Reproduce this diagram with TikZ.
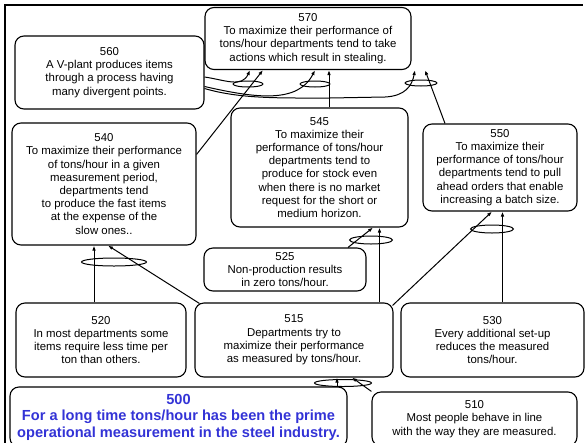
\documentclass[tikz,border=0pt]{standalone}
\usepackage{fontspec}
\setmainfont{Liberation Sans}
\usetikzlibrary{shapes.geometric,arrows.meta}
\definecolor{titleblue}{RGB}{51,51,214}
\tikzset{
  box/.style={draw, line width=1.1pt, rounded corners=9pt, inner sep=0pt, align=center,
    font=\fontsize{11.4}{13.2}\selectfont},
  andell/.style={draw, ellipse, line width=1pt, inner sep=0pt},
  conn/.style={line width=1pt, -{Latex[length=5pt,width=3.6pt]}}
}
\begin{document}
\begin{tikzpicture}[x=1pt,y=-1pt]
\useasboundingbox (0,0) rectangle (588,442);
\draw[line width=2.5pt] (5,445) -- (5,5) -- (583,5);
% boxes
\node[box, minimum width=206, minimum height=62] (b570) at (308,38.5)
  {570\\To maximize their performance of\\tons/hour departments tend to take\\actions which result in stealing.};
\node[box, minimum width=189, minimum height=73] (b560) at (109.5,72.5)
  {560\\A V-plant produces items\\through a process having\\many divergent points.};
\node[box, minimum width=184, minimum height=122] (b540) at (104,184)
  {540\\To maximize their performance\\of tons/hour in a given\\measurement period,\\departments tend\\to produce the fast items\\at the expense of the\\slow ones..};
\node[box, minimum width=177, minimum height=119] (b545) at (319.5,167.5)
  {545\\To maximize their\\performance of tons/hour\\departments tend to\\produce for stock even\\when there is no market\\request for the short or\\medium horizon.};
\node[box, minimum width=154, minimum height=87] (b550) at (500,167.5)
  {550\\To maximize their\\performance of tons/hour\\departments tend to pull\\ahead orders that enable\\increasing a batch size.};
\node[box, minimum width=162, minimum height=43] (b525) at (285,269.5)
  {525\\Non-production results\\in zero tons/hour.};
\node[box, minimum width=170, minimum height=74] (b520) at (101,340)
  {520\\In most departments some\\items require less time per\\ton than others.};
\node[box, minimum width=198, minimum height=74] (b515) at (294,340)
  {515\\Departments try to\\maximize their performance\\as measured by tons/hour.};
\node[box, minimum width=183, minimum height=74] (b530) at (492.5,340)
  {530\\Every additional set-up\\reduces the measured\\tons/hour.};
\node[box, minimum width=337, minimum height=60, text=titleblue,
  font=\fontsize{14.6}{16.5}\selectfont\bfseries] (b500) at (178.5,417)
  {500\\For a long time tons/hour has been the prime\\operational measurement in the steel industry.};
\node[box, minimum width=205, minimum height=54] (b510) at (474.5,419)
  {510\\Most people behave in line\\with the way they are measured.};
% connectors into 570
\draw[conn] ([yshift=-32]b540.north east) -- ([xshift=-45]b570.south);
\draw[conn] ([yshift=-4.5]b560.east) .. controls (225,80) and (242,88) .. ([xshift=-58]b570.south);
\draw[conn] ([yshift=-14]b560.east) .. controls (255,98) and (298,104) .. ([xshift=7]b570.south);
\draw[conn] ([yshift=-16]b560.east) .. controls (240,99) and (280,98) .. (330,98)
  -- (385,97) .. controls (405,96) and (412,86) .. ([xshift=107]b570.south);
\draw[conn] ([xshift=9.5]b545.north) -- ([xshift=21]b570.south);
\draw[conn] ([xshift=-55]b550.north) -- ([xshift=117]b570.south);
% into 545
\draw[conn] ([xshift=63]b525.north) -- ([xshift=53.5]b545.south);
\draw[conn] ([xshift=85.5]b515.north) -- ([xshift=60]b545.south);
% into 550
\draw[conn] ([xshift=-1,yshift=-3]b515.north east) -- ([xshift=-8]b550.south);
\draw[conn] ([xshift=10]b530.north) -- ([xshift=2.5]b550.south);
% into 540
\draw[conn] ([xshift=-7]b520.north) -- ([xshift=-10]b540.south);
\draw[conn] ([xshift=5,yshift=-1]b515.north west) -- ([xshift=4]b540.south);
% into 515
\draw[conn] ([xshift=158.5]b500.north) -- ([xshift=43]b515.south);
\draw[conn] (b510.north west) -- ([xshift=58]b515.south);
% AND ellipses
\node[andell, minimum width=30, minimum height=6] (e1) at (248,84) {};
\node[andell, minimum width=30, minimum height=6] (e2) at (315,84) {};
\node[andell, minimum width=32, minimum height=6] (e3) at (421,83) {};
\node[andell, minimum width=43, minimum height=8] (e4) at (371,240) {};
\node[andell, minimum width=43, minimum height=8] (e5) at (492,229) {};
\node[andell, minimum width=65, minimum height=8] (e6) at (114,262) {};
\node[andell, minimum width=57, minimum height=7] (e7) at (343,383) {};
\end{tikzpicture}
\end{document}
